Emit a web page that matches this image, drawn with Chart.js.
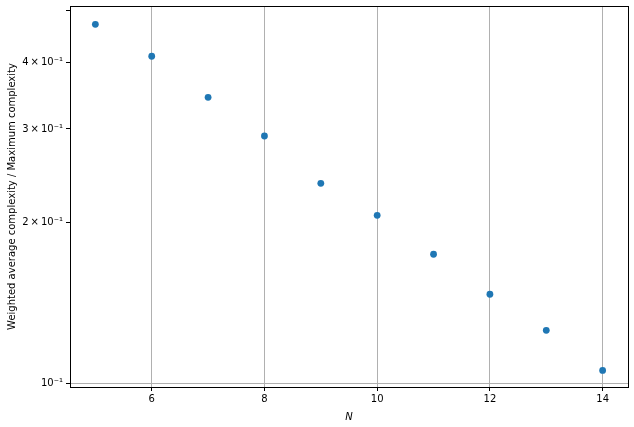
<!DOCTYPE html>
<html>
<head>
<meta charset="utf-8">
<script src="https://cdn.jsdelivr.net/npm/chart.js@4/dist/chart.umd.min.js"></script>
<style>
  html, body { margin: 0; padding: 0; background: #fff; }
  #wrap { width: 634px; height: 427px; }
</style>
</head>
<body>
<div id="wrap"><canvas id="chart" width="634" height="427"></canvas></div>
<script>
const nValues = [5, 6, 7, 8, 9, 10, 11, 12, 13, 14]
const ratios = [0.4716, 0.4108, 0.3440, 0.2910, 0.2371, 0.2065, 0.1745, 0.1468, 0.1256, 0.1056]

const xTicks = [6, 8, 10, 12, 14]
const yTicks = [0.1, 0.2, 0.3, 0.4, 0.5]
const yTickLabels = ['10\u207B\u00B9', '2\u2009\u00D7\u200910\u207B\u00B9', '3\u2009\u00D7\u200910\u207B\u00B9', '4\u2009\u00D7\u200910\u207B\u00B9', '']

const font = { family: 'DejaVu Sans', size: 10 }

// box around the plot area like matplotlib's spines
const frame = {
    id: 'frame',
    afterDraw(chart) {
        const { ctx, chartArea: a } = chart
        ctx.save()
        ctx.strokeStyle = '#000'
        ctx.lineWidth = 1
        ctx.strokeRect(a.left + 0.5, a.top + 0.5, a.right - a.left, a.bottom - a.top)
        ctx.restore()
    }
}

new Chart(document.getElementById('chart'), {
    type: 'scatter',
    data: {
        datasets: [{
            data: nValues.map((n, i) => ({ x: n, y: ratios[i] })),
            backgroundColor: '#1f77b4',
            borderWidth: 0,
            pointRadius: 3.4
        }]
    },
    options: {
        responsive: false,
        animation: false,
        devicePixelRatio: 1,
        layout: { padding: { left: 0, top: 6, right: 6, bottom: 0 } },
        plugins: {
            legend: { display: false },
            tooltip: { enabled: false }
        },
        scales: {
            x: {
                type: 'linear',
                min: 4.55,
                max: 14.45,
                afterBuildTicks: s => { s.ticks = xTicks.map(v => ({ value: v })) },
                afterFit: s => { s.height = 40; s.paddingLeft = 0; s.paddingRight = 0 },
                grid: { color: '#b0b0b0', lineWidth: 1, tickColor: '#000', tickLength: 4, drawOnChartArea: true },
                border: { display: false },
                ticks: { color: '#000', font: font, padding: 2, maxRotation: 0 },
                title: { display: true, text: 'N', color: '#000', font: { family: 'DejaVu Sans', size: 10, style: 'italic' }, padding: { top: 2 } }
            },
            y: {
                type: 'logarithmic',
                min: 0.0983,
                max: 0.5105,
                afterBuildTicks: s => { s.ticks = yTicks.map(v => ({ value: v })) },
                afterFit: s => { s.width = 70; s.paddingTop = 0; s.paddingBottom = 0 },
                grid: {
                    color: c => c.tick && c.tick.value === 0.1 ? '#b0b0b0' : 'rgba(0,0,0,0)',
                    tickColor: '#000',
                    tickLength: 4,
                    lineWidth: 1
                },
                border: { display: false },
                ticks: {
                    color: '#000',
                    font: font,
                    padding: 3,
                    autoSkip: false,
                    callback: (v, i) => yTickLabels[i]
                },
                title: { display: true, text: 'Weighted average complexity / Maximum complexity', color: '#000', font: font, padding: { top: 6, bottom: 0 } }
            }
        }
    },
    plugins: [frame]
})
</script>
</body>
</html>
